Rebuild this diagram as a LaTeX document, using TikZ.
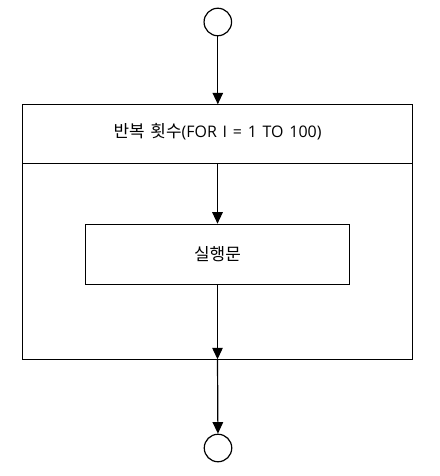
\documentclass[tikz,border=0pt]{standalone}
\usepackage{fontspec}
\newfontfamily\kr{Noto Sans CJK KR}
\newfontfamily\lat[WordSpace=1.4]{Open Sans}
\usetikzlibrary{arrows.meta}
\begin{document}
\begin{tikzpicture}[x=1bp,y=-1bp,
  line width=1.2bp,
  term/.style={draw,circle,minimum size=27.5bp,inner sep=0pt},
  arr/.style={-{Triangle[length=11.5bp,width=10.5bp]}},
  lbl/.style={font=\fontsize{16}{19}\selectfont}]
\useasboundingbox (0,0) rectangle (440,476);
\node[term] (start) at (217.8,22) {};
\node[term] (stop) at (218,448) {};
\coordinate (otl) at (22.7,104.3);
\coordinate (obr) at (412.3,359.3);
\draw (otl) rectangle (obr);
\coordinate (dl) at (22.7,163.5);
\coordinate (dr) at (412.3,163.5);
\draw (dl) -- (dr);
\node[lbl] (loop) at (217.5,132) {{\kr\fontsize{17}{19}\selectfont 반복}{\lat\ }{\kr\fontsize{17}{19}\selectfont 횟수}{\lat (FOR I = 1 TO 100)}};
\node[draw,minimum width=264.4bp,minimum height=60bp,inner sep=0pt,lbl] (body) at (217.5,254.3) {\kr\fontsize{17}{19}\selectfont 실행문};
\coordinate (otop) at (217.8,104.3);
\coordinate (dmid) at (217.5,163.5);
\coordinate (obot) at (217.5,359.3);
\draw[arr] (start) -- (otop);
\draw[arr] (dmid) -- (body.north);
\draw[arr] (body.south) -- (obot);
\draw[arr] (obot) -- (stop);
\end{tikzpicture}
\end{document}
